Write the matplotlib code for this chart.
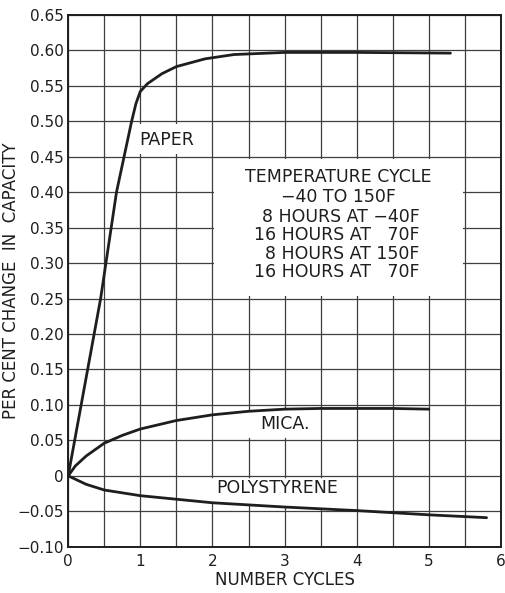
import numpy as np
import matplotlib.pyplot as plt
from matplotlib.patches import Rectangle, Polygon

# Capacitance change vs number of temperature cycles
paper_x = [0, 0.45, 0.67, 0.88, 0.94, 1.0, 1.1, 1.3, 1.5, 1.9, 2.3, 3.0, 4.0, 5.3]
paper_y = [0, 0.25, 0.40, 0.50, 0.525, 0.542, 0.553, 0.567, 0.577, 0.588, 0.594, 0.597, 0.597, 0.596]

mica_x = [0, 0.1, 0.25, 0.5, 0.75, 1.0, 1.5, 2.0, 2.5, 3.0, 3.5, 4.0, 4.5, 5.0]
mica_y = [0, 0.014, 0.028, 0.046, 0.057, 0.066, 0.078, 0.086, 0.091, 0.094, 0.095, 0.095, 0.095, 0.094]

poly_x = [0, 0.25, 0.5, 1.0, 1.5, 2.0, 3.0, 4.0, 5.0, 5.8]
poly_y = [0, -0.012, -0.02, -0.028, -0.033, -0.038, -0.044, -0.049, -0.055, -0.059]

x_ticks = [0, 1, 2, 3, 4, 5, 6]
y_ticks = np.round(np.arange(-0.10, 0.651, 0.05), 2)

cycle_title = ['TEMPERATURE CYCLE', '\u221240 TO 150F']
cycle_rows = ['8 HOURS AT \u221240F', '16 HOURS AT   70F', '8 HOURS AT 150F', '16 HOURS AT   70F']

ink = '#1e1e1e'
grid_c = '#3f3f3f'

fig = plt.figure(figsize=(5.05, 5.93), dpi=100)
ax = fig.add_axes([0.135, 0.078, 0.857, 0.897])

ax.set_xlim(0, 6)
ax.set_ylim(-0.10, 0.65)
ax.set_xticks(x_ticks)
ax.set_xticks(np.arange(0.5, 6, 1.0), minor=True)
ax.set_yticks(y_ticks)
ax.set_yticklabels(['0' if v == 0 else f'{v:.2f}'.replace('-', '\u2212') for v in y_ticks])
ax.grid(True, which='both', color=grid_c, linewidth=0.9)
ax.set_axisbelow(True)
ax.tick_params(which='both', length=0, pad=3, labelsize=11, colors=ink)
ax.tick_params(axis='x', pad=5)
for s in ax.spines.values():
    s.set_color(ink)
    s.set_linewidth(1.4)

# white label panels that hide the grid
ax.add_patch(Rectangle((0.75, 0.4535), 1.23, 0.043, facecolor='white', edgecolor='none', zorder=1.5))
ax.add_patch(Rectangle((2.02, 0.2535), 3.46, 0.193, facecolor='white', edgecolor='none', zorder=1.5))

mx = np.array(mica_x)
my = np.array(mica_y)
sel = (mx >= 2.0) & (mx <= 3.5)
top = list(zip(mx[sel], my[sel]))
top[0] = (2.02, top[0][1])
top[-1] = (3.48, top[-1][1])
ax.add_patch(Polygon([(2.02, 0.0535)] + top + [(3.48, 0.0535)],
                     facecolor='white', edgecolor='none', zorder=1.5))

px = np.array(poly_x)
py = np.array(poly_y)
sel = (px >= 1.5) & (px <= 4.0)
bot = list(zip(px[sel], py[sel]))
bot[0] = (1.52, bot[0][1])
bot[-1] = (3.98, bot[-1][1])
ax.add_patch(Polygon([(1.52, -0.0035)] + bot + [(3.98, -0.0035)],
                     facecolor='white', edgecolor='none', zorder=1.5))

for xs, ys in [(paper_x, paper_y), (mica_x, mica_y), (poly_x, poly_y)]:
    ax.plot(xs, ys, color=ink, linewidth=2.0, zorder=3, solid_capstyle='round')

txt = dict(color=ink, fontsize=12.5, zorder=4)
ax.text(1.36, 0.474, 'PAPER', ha='center', va='center', **txt)
ax.text(3.0, 0.073, 'MICA.', ha='center', va='center', **txt)
ax.text(2.9, -0.0175, 'POLYSTYRENE', ha='center', va='center', **txt)

ax.text(3.75, 0.421, cycle_title[0], ha='center', va='center', **txt)
ax.text(3.75, 0.393, cycle_title[1], ha='center', va='center', **txt)
for i, row in enumerate(cycle_rows):
    ax.text(4.87, 0.365 - i * 0.0258, row, ha='right', va='center', **txt)

ax.set_xlabel('NUMBER CYCLES', fontsize=12, color=ink, labelpad=2)
ax.set_ylabel('PER CENT CHANGE  IN  CAPACITY', fontsize=12, color=ink)
ax.yaxis.set_label_coords(-0.112, 0.5)

plt.savefig('out.png', dpi=100)
